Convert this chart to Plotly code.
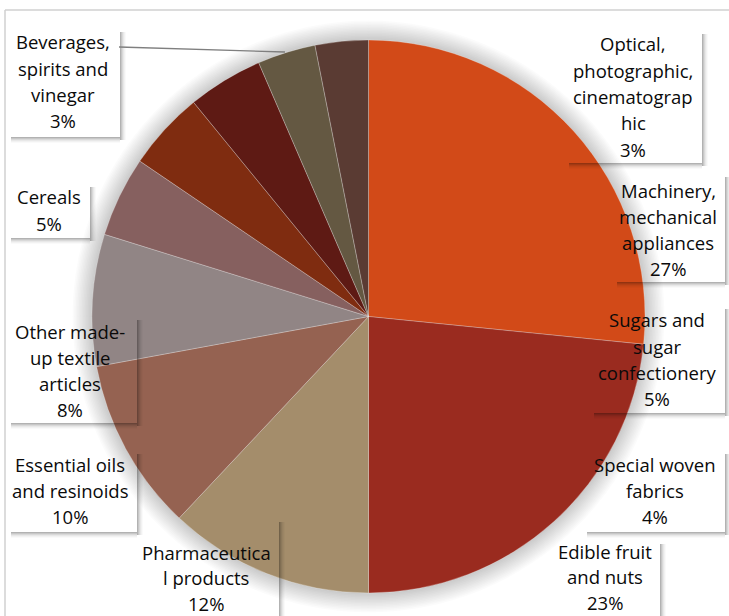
import plotly.graph_objects as go

W, H = 729, 616

# ---- data ----
categories = [
    "Machinery, mechanical appliances",
    "Edible fruit and nuts",
    "Pharmaceutical products",
    "Essential oils and resinoids",
    "Other made-up textile articles",
    "Cereals",
    "Sugars and sugar confectionery",
    "Special woven fabrics",
    "Beverages, spirits and vinegar",
    "Optical, photographic, cinematographic",
]
values = [26.6, 23.4, 12.0, 10.1, 7.7, 4.7, 4.6, 4.4, 3.4, 3.1]
label_lines = [
    ["Machinery,", "mechanical", "appliances"],
    ["Edible fruit", "and nuts"],
    ["Pharmaceutica", "l products"],
    ["Essential oils", "and resinoids"],
    ["Other made-", "up textile", "articles"],
    ["Cereals"],
    ["Sugars and", "sugar", "confectionery"],
    ["Special woven", "fabrics"],
    ["Beverages,", "spirits and", "vinegar"],
    ["Optical,", "photographic,", "cinematograp", "hic"],
]
colors = ["#D24A18", "#9A2B1F", "#A48D6B", "#956251", "#918585",
          "#86605F", "#7F2C10", "#5E1A14", "#645842", "#5A3B33"]

# ---- layout helpers (pixel -> paper) ----
def px(x):
    return x / W

def py(y):
    return 1 - y / H

CX, CY, R = 368.5, 316.5, 276.5

fig = go.Figure()
fig.add_trace(go.Pie(
    labels=categories, values=values, sort=False, direction="clockwise",
    rotation=0, textinfo="none", hoverinfo="label+percent",
    marker=dict(colors=colors, line=dict(color="rgba(255,255,255,0.35)", width=0.75)),
    domain=dict(x=[px(CX - R), px(CX + R)], y=[py(CY + R), py(CY - R)]),
    showlegend=False,
))

shapes = []
# pie soft glow
for k in range(1, 14):
    r = R + 1.5 * k
    shapes.append(dict(type="circle", xref="paper", yref="paper", layer="below",
                       x0=px(CX - r), x1=px(CX + r), y0=py(CY + r), y1=py(CY - r),
                       fillcolor="rgba(0,0,0,0.016)", line=dict(width=0)))

# chart border
shapes.append(dict(type="line", xref="paper", yref="paper", x0=px(5), x1=px(729), y0=py(10), y1=py(10),
                   line=dict(color="#D0D0D0", width=1.5)))
shapes.append(dict(type="line", xref="paper", yref="paper", x0=px(5), x1=px(5), y0=py(10), y1=py(616),
                   line=dict(color="#D0D0D0", width=1.5)))

# label boxes: (index, box x0,y0,x1,y1, text center x, first line y, line spacing)
boxes = [
    (8, 7, 25, 120, 137, 63, 42, 26.3),
    (5, 7, 180, 90, 238, 49, 197, 26.3),
    (4, 7, 313, 137, 423, 70, 331, 26.3),
    (3, 7, 447, 137, 532, 70, 464, 26.3),
    (2, 135, 515, 279, 650, 206, 552, 25.8),
    (9, 565, 27, 702, 163, 633, 44, 26.3),
    (0, 613, 170, 725, 282, 668, 190, 26.3),
    (6, 590, 302, 725, 413, 657, 320, 26.3),
    (7, 583, 447, 725, 532, 655, 464, 26.3),
    (1, 550, 537, 660, 650, 605, 551, 25.8),
]
total = sum(values)
annotations = []
alphas = [0.30, 0.22, 0.15, 0.09, 0.05, 0.02]
for idx, x0, y0, x1, y1, cx, ly, ls in boxes:
    # soft shadow strips (right & bottom)
    for i, a in enumerate(alphas):
        shapes.append(dict(type="rect", xref="paper", yref="paper", layer="above",
                           x0=px(x1 + i), x1=px(x1 + i + 1), y0=py(y1 + 3), y1=py(y0 + 7),
                           fillcolor=f"rgba(0,0,0,{a})", line=dict(width=0)))
        shapes.append(dict(type="rect", xref="paper", yref="paper", layer="above",
                           x0=px(x0 + 4), x1=px(x1), y0=py(y1 + i + 1), y1=py(y1 + i),
                           fillcolor=f"rgba(0,0,0,{a})", line=dict(width=0)))
    lines = label_lines[idx] + [f"{round(values[idx] / total * 100)}%"]
    for j, t in enumerate(lines):
        annotations.append(dict(xref="paper", yref="paper", x=px(cx), y=py(ly + j * ls),
                                text=t, showarrow=False, xanchor="center", yanchor="middle",
                                borderpad=0,
                                font=dict(family="Open Sans", size=18.5, color="#0A0A0A")))

# leader line for Beverages label
shapes.append(dict(type="line", xref="paper", yref="paper", x0=px(119), y0=py(47), x1=px(285), y1=py(52),
                   line=dict(color="#7F7F7F", width=1.3)))

fig.update_layout(width=W, height=H, margin=dict(l=0, r=0, t=0, b=0),
                  paper_bgcolor="white", plot_bgcolor="white",
                  shapes=shapes, annotations=annotations, showlegend=False)
fig.write_html("out.html", config={"displayModeBar": False},
               post_script="document.body.style.margin='0';document.body.style.padding='0';")
